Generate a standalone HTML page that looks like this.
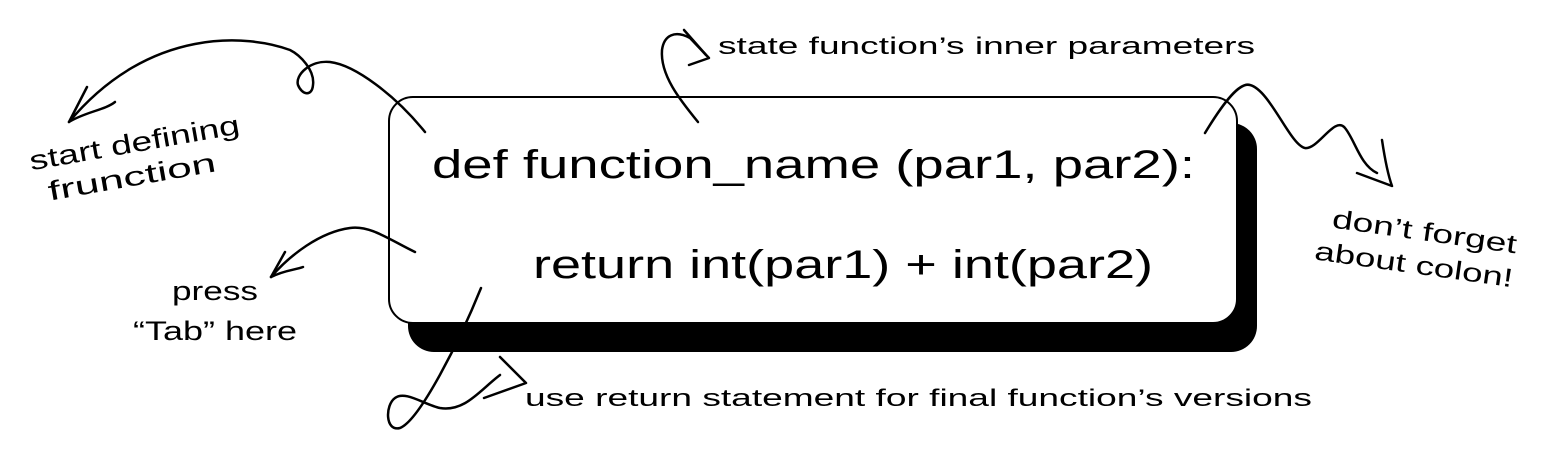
<!DOCTYPE html>
<html><head><meta charset="utf-8"><style>
html,body{margin:0;padding:0;background:#fff;}
svg{display:block;}
text{font-family:"Liberation Sans",sans-serif;fill:#000;}
</style></head><body>
<svg width="1560" height="451" viewBox="0 0 1560 451" xmlns="http://www.w3.org/2000/svg">
<rect x="408" y="123" width="849" height="229" rx="26" fill="#000"/>
<rect x="389" y="97" width="848" height="226" rx="24" fill="#fff" stroke="#000" stroke-width="2"/>
<text x="432" y="178" font-size="40" textLength="763" lengthAdjust="spacingAndGlyphs">def function_name (par1, par2):</text>
<text x="533" y="278" font-size="40" textLength="620" lengthAdjust="spacingAndGlyphs">return int(par1) + int(par2)</text>

<text x="718" y="54" font-size="24" textLength="537" lengthAdjust="spacingAndGlyphs">state function’s inner parameters</text>
<text x="525" y="406" font-size="24" textLength="787" lengthAdjust="spacingAndGlyphs">use return statement for final function’s versions</text>
<text x="172" y="300" font-size="27" textLength="86" lengthAdjust="spacingAndGlyphs">press</text>
<text x="133" y="340" font-size="27" textLength="164" lengthAdjust="spacingAndGlyphs">“Tab” here</text>
<g transform="rotate(-10 130 155)">
<text x="30" y="153" font-size="27" textLength="213" lengthAdjust="spacingAndGlyphs">start defining</text>
<text x="43" y="186" font-size="27" textLength="170" lengthAdjust="spacingAndGlyphs">frunction</text>
</g>
<g transform="rotate(8 1420 250)">
<text x="1329" y="240" font-size="26" textLength="186" lengthAdjust="spacingAndGlyphs">don’t forget</text>
<text x="1316" y="274" font-size="26" textLength="200" lengthAdjust="spacingAndGlyphs">about colon!</text>
</g>

<g fill="none" stroke="#000" stroke-width="2.5" stroke-linecap="round" stroke-linejoin="round">
<path d="M425,132 C395,95 355,65 330,62 C310,60 295,75 298,85 C302,95 312,97 313,85 C315,70 300,55 290,50 C250,35 150,25 69,122"/>
<path d="M87,87 L69,122 C85,112 105,110 115,102"/>
<path d="M415,252 C390,240 370,225 350,228 C320,232 290,255 271,277"/>
<path d="M285,252 L271,277 C285,270 295,270 303,267"/>
<path d="M698,122 C680,100 660,75 662,50 C664,35 675,30 690,38 L709,58 L689,65"/>
<path d="M684,30 L706,55"/>
<path d="M481,288 C460,340 420,420 400,428 C385,432 385,405 395,398 C405,390 425,405 440,408 C465,412 480,390 500,375"/>
<path d="M500,357 L526,383 L484,398"/>
<path d="M1205,133 C1225,100 1240,82 1250,85 C1270,90 1290,145 1305,148 C1318,150 1335,115 1345,128 C1355,140 1360,165 1377,173"/>
<path d="M1382,140 C1385,160 1388,175 1392,186 L1357,173"/>
</g>
</svg>
</body></html>
